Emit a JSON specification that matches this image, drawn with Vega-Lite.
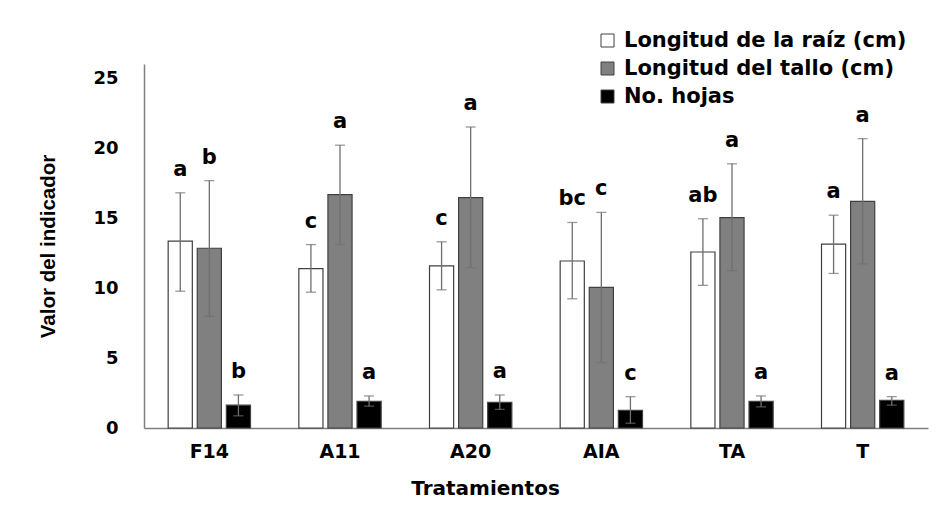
{
  "$schema": "https://vega.github.io/schema/vega-lite/v6.json",
  "width": 784, "height": 364,
  "autosize": "none",
  "padding": {"left": 144, "top": 64, "right": 12, "bottom": 82},
  "background": "white",
  "config": {
    "view": {"stroke": null},
    "axis": {"labelFont": "DejaVu Sans", "labelFontWeight": "bold", "labelFontSize": 18, "labelColor": "black",
             "titleFontWeight": "bold", "titleColor": "black", "domainColor": "#7f7f7f", "domainWidth": 1.5,
             "ticks": false, "grid": false},
    "legend": {"labelFont": "DejaVu Sans", "labelFontWeight": "bold", "labelFontSize": 21, "labelColor": "black", "labelLimit": 0}
  },
  "data": {
    "values": [
      {"trat": "F14", "var": "Longitud de la raíz (cm)", "valor": 13.35, "lo": 9.77, "hi": 16.8, "letra": "a"},
      {"trat": "F14", "var": "Longitud del  tallo (cm)", "valor": 12.84, "lo": 7.97, "hi": 17.67, "letra": "b"},
      {"trat": "F14", "var": "No. hojas", "valor": 1.63, "lo": 0.87, "hi": 2.36, "letra": "b"},
      {"trat": "A11", "var": "Longitud de la raíz (cm)", "valor": 11.38, "lo": 9.7, "hi": 13.1, "letra": "c"},
      {"trat": "A11", "var": "Longitud del  tallo (cm)", "valor": 16.67, "lo": 13.1, "hi": 20.2, "letra": "a"},
      {"trat": "A11", "var": "No. hojas", "valor": 1.9, "lo": 1.56, "hi": 2.29, "letra": "a"},
      {"trat": "A20", "var": "Longitud de la raíz (cm)", "valor": 11.58, "lo": 9.87, "hi": 13.3, "letra": "c"},
      {"trat": "A20", "var": "Longitud del  tallo (cm)", "valor": 16.46, "lo": 11.45, "hi": 21.5, "letra": "a"},
      {"trat": "A20", "var": "No. hojas", "valor": 1.83, "lo": 1.33, "hi": 2.36, "letra": "a"},
      {"trat": "AIA", "var": "Longitud de la raíz (cm)", "valor": 11.93, "lo": 9.23, "hi": 14.68, "letra": "bc"},
      {"trat": "AIA", "var": "Longitud del  tallo (cm)", "valor": 10.05, "lo": 4.67, "hi": 15.4, "letra": "c"},
      {"trat": "AIA", "var": "No. hojas", "valor": 1.26, "lo": 0.34, "hi": 2.24, "letra": "c"},
      {"trat": "TA", "var": "Longitud de la raíz (cm)", "valor": 12.57, "lo": 10.19, "hi": 14.95, "letra": "ab"},
      {"trat": "TA", "var": "Longitud del  tallo (cm)", "valor": 15.02, "lo": 11.24, "hi": 18.87, "letra": "a"},
      {"trat": "TA", "var": "No. hojas", "valor": 1.9, "lo": 1.51, "hi": 2.29, "letra": "a"},
      {"trat": "T", "var": "Longitud de la raíz (cm)", "valor": 13.14, "lo": 11.04, "hi": 15.2, "letra": "a"},
      {"trat": "T", "var": "Longitud del  tallo (cm)", "valor": 16.19, "lo": 11.72, "hi": 20.67, "letra": "a"},
      {"trat": "T", "var": "No. hojas", "valor": 1.97, "lo": 1.63, "hi": 2.24, "letra": "a"}
    ]
  },
  "encoding": {
    "x": {"field": "trat", "type": "nominal", "sort": null,
          "scale": {"paddingInner": 0.37, "paddingOuter": 0.185},
          "axis": {"title": "Tratamientos", "labelAngle": 0, "labelPadding": 14, "labelFontSize": 19,
                   "titleFont": "DejaVu Sans", "titleFontSize": 20, "titleX": 341, "titleY": 50}},
    "xOffset": {"field": "var", "type": "nominal", "sort": null,
                "scale": {"paddingInner": 0.17, "paddingOuter": 0}}
  },
  "layer": [
    {
      "mark": {"type": "bar", "stroke": "#404040", "strokeWidth": 1.2},
      "encoding": {
        "y": {"field": "valor", "type": "quantitative",
              "scale": {"domain": [0, 25]},
              "axis": {"title": "Valor del indicador", "values": [0, 5, 10, 15, 20, 25], "labelPadding": 26,
                       "titleFont": "Liberation Sans", "titleFontSize": 20.5, "titleX": -96, "titleY": 182,
                       "titleBaseline": "middle", "titleAlign": "center"}},
        "color": {"field": "var", "type": "nominal",
                  "scale": {"domain": ["Longitud de la raíz (cm)", "Longitud del  tallo (cm)", "No. hojas"],
                            "range": ["#ffffff", "#808080", "#000000"]},
                  "legend": {"title": null, "orient": "none", "legendX": 453, "legendY": -34,
                             "symbolType": "square", "symbolSize": 169, "symbolStrokeColor": "#404040",
                             "symbolStrokeWidth": 1, "labelOffset": 6, "rowPadding": 6, "padding": 0}}
      }
    },
    {
      "mark": {"type": "rule", "color": "#6f6f6f", "strokeWidth": 1.3},
      "encoding": {
        "y": {"field": "lo", "type": "quantitative"},
        "y2": {"field": "hi"}
      }
    },
    {
      "mark": {"type": "tick", "color": "#6f6f6f", "thickness": 1.3, "size": 10},
      "encoding": {"y": {"field": "lo", "type": "quantitative"}}
    },
    {
      "mark": {"type": "tick", "color": "#6f6f6f", "thickness": 1.3, "size": 10},
      "encoding": {"y": {"field": "hi", "type": "quantitative"}}
    },
    {
      "mark": {"type": "text", "font": "DejaVu Sans", "fontWeight": "bold", "fontSize": 21,
               "baseline": "alphabetic", "dy": -17, "color": "black"},
      "encoding": {
        "y": {"field": "hi", "type": "quantitative"},
        "text": {"field": "letra", "type": "nominal"}
      }
    }
  ]
}
